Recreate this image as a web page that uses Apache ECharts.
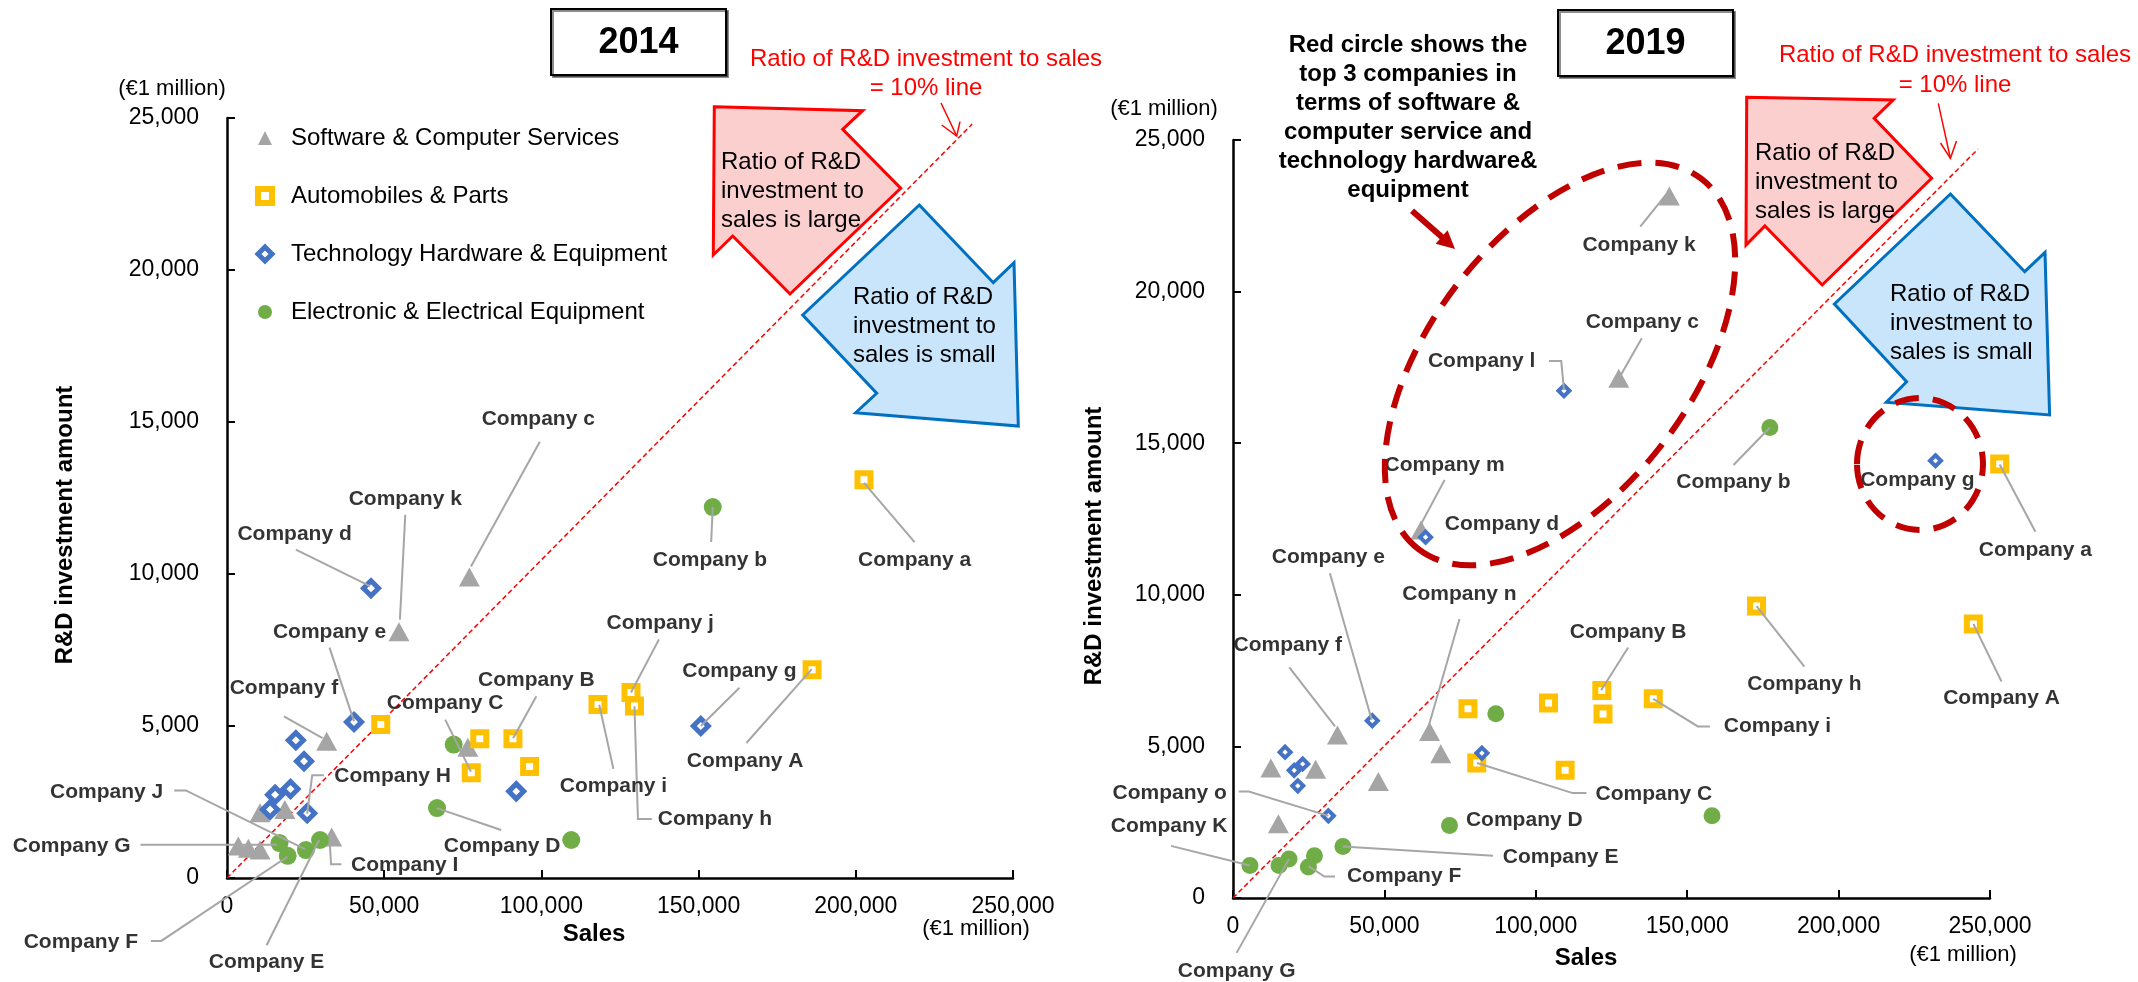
<!DOCTYPE html>
<html>
<head>
<meta charset="utf-8">
<title>R&amp;D investment vs Sales 2014 / 2019</title>
<script src="https://cdn.jsdelivr.net/npm/echarts@6/dist/echarts.min.js"></script>
<style>
  html, body { margin: 0; padding: 0; background: #fff; }
  #main { width: 2138px; height: 982px; }
</style>
</head>
<body>
<div id="main"></div>
<script>
// values are [sales, R&D investment] in €1 million
var categories = ['Software & Computer Services', 'Automobiles & Parts',
  'Technology Hardware & Equipment', 'Electronic & Electrical Equipment'];

var software2014 = [[77100, 9900], [54700, 8100], [31700, 4500], [76600, 4300], [10500, 2150],
  [18400, 2250], [33300, 1350], [3600, 1050], [6800, 980], [10500, 920]];
var auto2014 = [[202600, 13100], [186100, 6850], [128500, 6100], [129600, 5660], [118000, 5710],
  [90950, 4580], [80400, 4580], [96250, 3670], [77700, 3460], [48900, 5050]];
var tech2014 = [[45800, 9530], [40400, 5130], [21900, 4530], [24500, 3840], [20200, 2930],
  [15300, 2740], [13700, 2250], [25500, 2130], [150700, 5000], [92000, 2850]];
var elec2014 = [[154500, 12200], [72100, 4390], [66800, 2300], [109500, 1250], [16700, 1150],
  [19300, 730], [25100, 920], [29600, 1250]];

var software2019 = [[144100, 23150], [127400, 17140], [62100, 12140], [34500, 5380], [64900, 5490],
  [68600, 4760], [12500, 4290], [27300, 4250], [48000, 3840], [15000, 2450]];
var auto2019 = [[253200, 14310], [172900, 9630], [244500, 9040], [121800, 6840], [122200, 6070],
  [138800, 6570], [104200, 6430], [77600, 6240], [80500, 4450], [109700, 4210]];
var tech2019 = [[232000, 14420], [109300, 16730], [63600, 11900], [46000, 5850], [17200, 4810],
  [23000, 4420], [20200, 4210], [21400, 3700], [82200, 4780], [31500, 2710]];
var elec2019 = [[177300, 15520], [86800, 6080], [71500, 2390], [158200, 2710], [36300, 1700],
  [26900, 1390], [18500, 1290], [15200, 1070], [24900, 1020], [5600, 1070]];

// axis ticks
var xMin = 0, xMax = 250000, xStep = 50000;
var yMin = 0, yMax = 25000, yStep = 5000;

// "ratio = 10%" reference line, as drawn
var tenPct2014 = [[0, 0], [237000, 24800]];
var tenPct2019 = [[0, 0], [246000, 24700]];

// company labels: [text, label x, label y, leader line points (label side -> marker)]
var annot2014 = [
  ['Company c', 99000, 15100, [[99500, 14350], [77600, 10250]]],
  ['Company k', 56700, 12450, [[56700, 11950], [55000, 8500]]],
  ['Company d', 21500, 11300, [[21900, 10800], [45500, 9600]]],
  ['Company a', 218700, 10450, [[218700, 11050], [202600, 13000]]],
  ['Company b', 153600, 10450, [[154000, 11050], [154500, 12200]]],
  ['Company e', 32600, 8100, [[32600, 7580], [40400, 5150]]],
  ['Company j', 137800, 8380, [[137400, 7850], [128500, 6100]]],
  ['Company B', 98400, 6510, [[98400, 5980], [91000, 4600]]],
  ['Company g', 163000, 6790, [[163000, 6260], [150700, 5000]]],
  ['Company f', 18100, 6240, [[18100, 5320], [30400, 4600]]],
  ['Company C', 69400, 5740, [[69400, 5210], [77600, 3500]]],
  ['Company A', 164800, 3840, [[165200, 4440], [186000, 6870]]],
  ['Company H', 52700, 3340, [[30800, 3380], [27100, 3380], [25500, 2120]]],
  ['Company i', 122900, 3010, [[122900, 3590], [118400, 5700]]],
  ['Company h', 155200, 1940, [[135100, 1940], [130700, 1940], [129600, 5650]]],
  ['Company J', -38300, 2830, [[-16800, 2880], [-13100, 2880], [24800, 950]]],
  ['Company G', -49400, 1060, [[-27500, 1090], [15900, 1090]]],
  ['Company D', 87500, 1030, [[87200, 1580], [66700, 2300]]],
  ['Company I', 56500, 410, [[36400, 450], [33100, 450], [32600, 1310]]],
  ['Company F', -46500, -2100, [[-24200, -2070], [-20900, -2070], [19200, 700]]],
  ['Company E', 12600, -2760, [[12600, -2210], [29300, 1250]]]
];
var annot2019 = [
  ['Company k', 134100, 21530, [[134500, 22140], [143000, 23200]]],
  ['Company c', 135200, 18990, [[135000, 18460], [127800, 17200]]],
  ['Company l', 82100, 17690, [[104400, 17710], [108400, 17710], [109300, 16750]]],
  ['Company m', 69900, 14280, [[69900, 13790], [62200, 12350]]],
  ['Company d', 88800, 12330, null],
  ['Company b', 165300, 13710, [[165300, 14280], [177300, 15520]]],
  ['Company g', 226000, 13790, null],
  ['Company a', 265000, 11480, [[265000, 12080], [253200, 14300]]],
  ['Company e', 31500, 11240, [[32000, 10710], [45800, 5880]]],
  ['Company n', 74800, 10020, [[74800, 9200], [64700, 5700]]],
  ['Company f', 18100, 8330, [[18600, 7610], [33700, 5660]]],
  ['Company B', 130500, 8770, [[130500, 8260], [121600, 6850]]],
  ['Company h', 188700, 7060, [[188700, 7630], [172900, 9630]]],
  ['Company A', 253800, 6590, [[253800, 7140], [244500, 9040]]],
  ['Company i', 179800, 5660, [[157500, 5660], [153500, 5660], [138800, 6570]]],
  ['Company C', 139000, 3430, [[116700, 3460], [112200, 3460], [80600, 4450]]],
  ['Company o', -20900, 3460, [[1900, 3510], [5200, 3510], [31500, 2710]]],
  ['Company K', -21100, 2360, [[-20500, 1720], [5600, 1070]]],
  ['Company D', 96200, 2560, null],
  ['Company E', 108200, 1350, [[85900, 1390], [36300, 1700]]],
  ['Company F', 56500, 710, [[33700, 710], [30200, 710], [25000, 1040]]],
  ['Company G', 1200, -2420, [[1200, -1810], [18500, 1290]]]
];

var FONT = 'Arial, "Liberation Sans", sans-serif';
var GREY = '#A5A5A5', YELLOW = '#FFC000', BLUE = '#4472C4', GREEN = '#70AD47';

function axisPair(idx) {
  var line = { show: true, onZero: false, lineStyle: { color: '#000', width: 2.5 } };
  var tick = { show: true, inside: true, length: 8, lineStyle: { color: '#000', width: 2 } };
  return {
    x: {
      type: 'value', gridIndex: idx, min: xMin, max: xMax, interval: xStep,
      axisLine: line, axisTick: tick, splitLine: { show: false },
      axisLabel: { color: '#000', fontSize: 23, fontFamily: FONT, margin: 17 }
    },
    y: {
      type: 'value', gridIndex: idx, min: yMin, max: yMax, interval: yStep,
      axisLine: line, axisTick: tick, splitLine: { show: false },
      axisLabel: { color: '#000', fontSize: 23, fontFamily: FONT, margin: 28 }
    }
  };
}

function pointSeries(name, data, idx, style) {
  return {
    name: name, type: 'scatter', xAxisIndex: idx, yAxisIndex: idx, z: 2, clip: false,
    symbol: style.symbol, symbolSize: style.size, data: data, silent: true,
    itemStyle: { color: style.color, borderColor: style.border || style.color, borderWidth: style.bw || 0, opacity: 1 }
  };
}

function labelSeries(list, idx) {
  return {
    type: 'scatter', xAxisIndex: idx, yAxisIndex: idx, symbolSize: 1, clip: false, silent: true, z: 6,
    itemStyle: { color: 'rgba(0,0,0,0)' },
    label: { show: true, position: 'inside', formatter: '{b}', color: '#000', fontSize: 21, fontWeight: 'bold', fontFamily: FONT },
    data: list.map(function (a) { return { name: a[0], value: [a[1], a[2]] }; })
  };
}

function leaderSeries(list, idx) {
  return {
    type: 'lines', coordinateSystem: 'cartesian2d', xAxisIndex: idx, yAxisIndex: idx,
    polyline: true, silent: true, clip: false, z: 3,
    lineStyle: { color: '#A6A6A6', width: 2, opacity: 1 },
    data: list.filter(function (a) { return a[3]; }).map(function (a) {
      return { coords: a[3] };
    })
  };
}

function tenPctSeries(data, idx) {
  return {
    type: 'line', xAxisIndex: idx, yAxisIndex: idx, data: data, symbol: 'none', silent: true, z: 1,
    lineStyle: { color: '#FF0000', width: 1.5, type: [5, 3] }
  };
}

function txt(x, y, text, font, opt) {
  opt = opt || {};
  return {
    type: 'text', x: x, y: y, rotation: opt.rotation || 0, z: opt.z || 20, silent: true,
    style: {
      text: text, font: font, fill: opt.fill || '#000',
      align: opt.align || 'center', verticalAlign: 'middle',
      textAlign: opt.align || 'center', textVerticalAlign: 'middle',
      lineHeight: opt.lineHeight
    }
  };
}

var a0 = axisPair(0), a1 = axisPair(1);
var s14 = { software: { symbol: 'triangle', size: [21, 19], color: GREY },
            auto: { symbol: 'rect', size: 13, color: '#fff', border: YELLOW, bw: 6 },
            tech: { symbol: 'diamond', size: 15, color: '#fff', border: BLUE, bw: 5 },
            elec: { symbol: 'circle', size: 18, color: GREEN } };
var s19 = { software: { symbol: 'triangle', size: [21, 19], color: GREY },
            auto: { symbol: 'rect', size: 13, color: '#fff', border: YELLOW, bw: 6 },
            tech: { symbol: 'diamond', size: 11, color: '#fff', border: BLUE, bw: 4 },
            elec: { symbol: 'circle', size: 17, color: GREEN } };

var reg = 'normal 24px ' + FONT, bold24 = 'bold 24px ' + FONT;

var graphics = [
  // year boxes
  { type: 'rect', shape: { x: 551, y: 9, width: 175, height: 66 }, z: 15,
    style: { fill: '#fff', stroke: '#000', lineWidth: 2, shadowColor: 'rgba(0,0,0,0.45)', shadowOffsetX: 2, shadowOffsetY: 2 } },
  txt(638.5, 43, '2014', 'bold 36px ' + FONT),
  { type: 'rect', shape: { x: 1558, y: 10, width: 175, height: 66 }, z: 15,
    style: { fill: '#fff', stroke: '#000', lineWidth: 2, shadowColor: 'rgba(0,0,0,0.45)', shadowOffsetX: 2, shadowOffsetY: 2 } },
  txt(1645.5, 44, '2019', 'bold 36px ' + FONT),

  // unit notes and axis titles
  txt(172, 89, '(€1 million)', 'normal 22px ' + FONT),
  txt(976, 929, '(€1 million)', 'normal 22px ' + FONT),
  txt(1164, 109, '(€1 million)', 'normal 22px ' + FONT),
  txt(1963, 955, '(€1 million)', 'normal 22px ' + FONT),
  txt(594, 934, 'Sales', bold24),
  txt(1586, 958, 'Sales', bold24),
  txt(65, 525, 'R&D investment amount', bold24, { rotation: Math.PI / 2 }),
  txt(1094, 546, 'R&D investment amount', bold24, { rotation: Math.PI / 2 }),

  // 10% line notes
  txt(926, 73.5, 'Ratio of R&D investment to sales\n= 10% line', reg, { fill: '#FF0000', lineHeight: 29 }),
  txt(1955, 70, 'Ratio of R&D investment to sales\n= 10% line', reg, { fill: '#FF0000', lineHeight: 30 }),
  { type: 'polyline', z: 15, shape: { points: [[941, 103], [956.7, 136]] }, style: { stroke: '#FF0000', lineWidth: 1.5, fill: null } },
  { type: 'polyline', z: 15, shape: { points: [[941.7, 125], [956.7, 136], [960, 121.7]] }, style: { stroke: '#FF0000', lineWidth: 1.5, fill: null } },
  { type: 'polyline', z: 15, shape: { points: [[1938.3, 103.3], [1950.4, 158.3]] }, style: { stroke: '#FF0000', lineWidth: 1.5, fill: null } },
  { type: 'polyline', z: 15, shape: { points: [[1940.5, 143], [1950.4, 158.3], [1956.5, 141]] }, style: { stroke: '#FF0000', lineWidth: 1.5, fill: null } },

  // block arrows 2014
  { type: 'polygon', z: 12, shape: { points: [[714.3, 106.7], [862.7, 110.7], [842.7, 129.3], [900.7, 188.3], [790, 294], [732.7, 236], [713.3, 255]] },
    style: { fill: '#FCCFCF', stroke: '#FF0000', lineWidth: 3 } },
  txt(721, 191.5, 'Ratio of R&D\ninvestment to\nsales is large', reg, { align: 'left', lineHeight: 29 }),
  { type: 'polygon', z: 12, shape: { points: [[919.3, 205], [993.3, 282.7], [1014, 262.7], [1018.3, 426], [855.7, 412.7], [876.7, 393.3], [802.7, 315]] },
    style: { fill: '#C9E5FB', stroke: '#0070C0', lineWidth: 3 } },
  txt(853, 326, 'Ratio of R&D\ninvestment to\nsales is small', reg, { align: 'left', lineHeight: 29 }),

  // block arrows 2019
  { type: 'polygon', z: 12, shape: { points: [[1746.7, 97.3], [1893.1, 100], [1874.2, 118.3], [1931.6, 178.3], [1822.2, 285], [1764.9, 226], [1746, 245]] },
    style: { fill: '#FCCFCF', stroke: '#FF0000', lineWidth: 3 } },
  txt(1755, 182.7, 'Ratio of R&D\ninvestment to\nsales is large', reg, { align: 'left', lineHeight: 29 }),
  { type: 'polygon', z: 12, shape: { points: [[1950.4, 194], [2024.7, 271.7], [2045, 252.3], [2049.6, 415], [1886.3, 402.3], [1906.6, 381.7], [1834.4, 304]] },
    style: { fill: '#C9E5FB', stroke: '#0070C0', lineWidth: 3 } },
  txt(1890, 323.3, 'Ratio of R&D\ninvestment to\nsales is small', reg, { align: 'left', lineHeight: 29 }),

  // red circles 2019
  { type: 'ellipse', x: 1560, y: 364, rotation: 0.918, z: 14, shape: { cx: 0, cy: 0, rx: 233, ry: 130 },
    style: { fill: null, stroke: '#C00000', lineWidth: 6, lineDash: [24, 14] } },
  { type: 'ellipse', x: 1920, y: 464, z: 14, shape: { cx: 0, cy: 0, rx: 63, ry: 66 },
    style: { fill: null, stroke: '#C00000', lineWidth: 6, lineDash: [24, 14] } },
  txt(1408, 118.2, 'Red circle shows the\ntop 3 companies in\nterms of software &\ncomputer service and\ntechnology hardware&\nequipment', bold24, { lineHeight: 29 }),
  { type: 'line', z: 14, shape: { x1: 1412, y1: 210.7, x2: 1443, y2: 238 }, style: { stroke: '#C00000', lineWidth: 6 } },
  { type: 'polygon', z: 14, shape: { points: [[1455, 249], [1435.6, 243.7], [1447.6, 230.3]] }, style: { fill: '#C00000' } }
];

// legend icons: small and heavy-bordered like the original key
var legendData = [
  { name: categories[0] },
  { name: categories[1], itemStyle: { borderWidth: 6 } },
  { name: categories[2], itemStyle: { borderWidth: 5 } },
  { name: categories[3] }
];

var myChart = echarts.init(document.getElementById('main'));
myChart.setOption({
  backgroundColor: '#fff',
  animation: false,
  textStyle: { fontFamily: FONT },
  grid: [
    { left: 227, top: 118, width: 786, height: 760 },
    { left: 1233, top: 140, width: 757, height: 758 }
  ],
  xAxis: [a0.x, a1.x],
  yAxis: [a0.y, a1.y],
  legend: {
    data: legendData, orient: 'vertical', left: 250, top: 121, itemGap: 34,
    itemWidth: 14, itemHeight: 14, selectedMode: false,
    textStyle: { fontSize: 24, color: '#000', fontFamily: FONT, padding: [0, 0, 0, 14] }
  },
  graphic: { elements: graphics },
  series: [
    tenPctSeries(tenPct2014, 0),
    tenPctSeries(tenPct2019, 1),
    pointSeries(categories[0], software2014, 0, s14.software),
    pointSeries(categories[1], auto2014, 0, s14.auto),
    pointSeries(categories[2], tech2014, 0, s14.tech),
    pointSeries(categories[3], elec2014, 0, s14.elec),
    pointSeries(categories[0], software2019, 1, s19.software),
    pointSeries(categories[1], auto2019, 1, s19.auto),
    pointSeries(categories[2], tech2019, 1, s19.tech),
    pointSeries(categories[3], elec2019, 1, s19.elec),
    leaderSeries(annot2014, 0),
    leaderSeries(annot2019, 1),
    labelSeries(annot2014, 0),
    labelSeries(annot2019, 1)
  ]
});
</script>
</body>
</html>
